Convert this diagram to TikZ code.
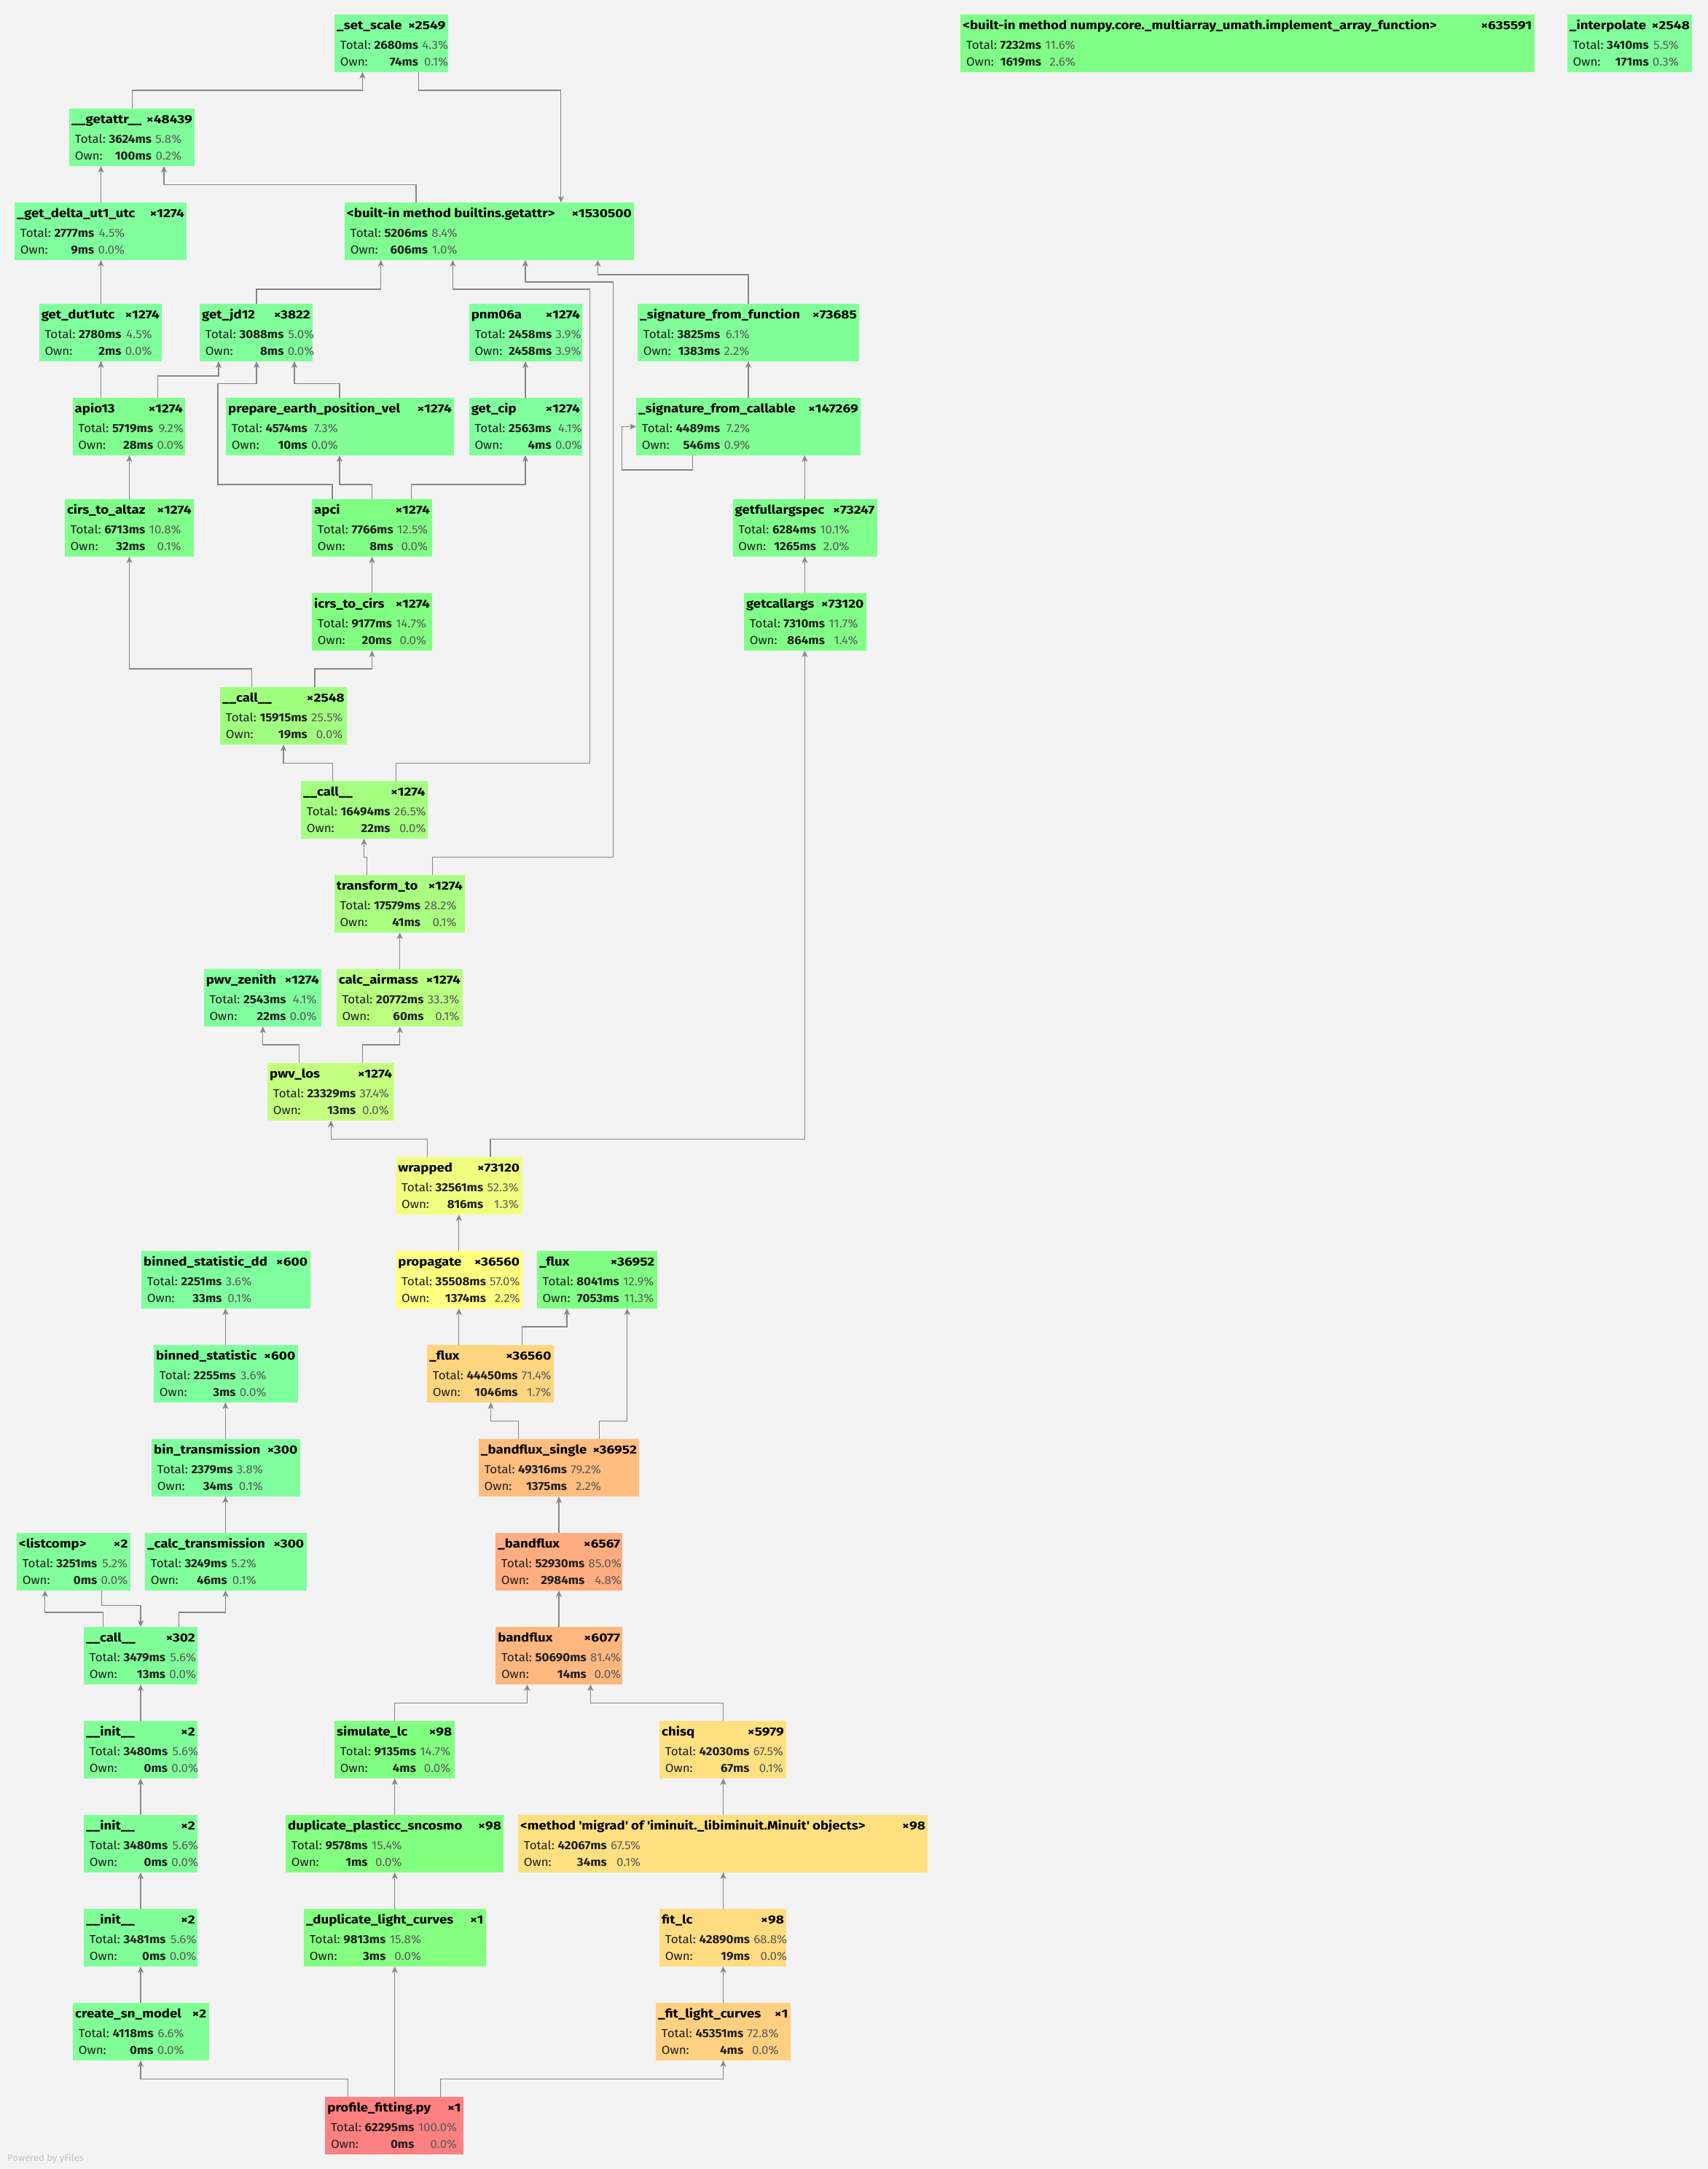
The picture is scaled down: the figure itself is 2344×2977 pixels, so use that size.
\documentclass[tikz,border=0pt]{standalone}
\usepackage{fontspec}
\setmainfont{Fira Sans}
\newfontfamily\fuentetitulo{Fira Sans}[FakeStretch=1.13]
\newfontfamily\fuentenumero{Fira Sans}[FakeStretch=1.2]
\newfontfamily\fuentedatos{Fira Sans}[FakeStretch=1.06]
\usetikzlibrary{arrows.meta}

\definecolor{fondo}{HTML}{F3F3F3}
\definecolor{linea}{HTML}{868686}
\definecolor{pct}{HTML}{5A5A5A}
\definecolor{texto}{HTML}{1E1E1E}
\definecolor{marca}{HTML}{C4C4C4}

\tikzset{
  caja/.style={rectangle, inner sep=0pt, minimum height=78.5pt, anchor=north west},
  titulo/.style={inner sep=0pt, font=\fuentetitulo\bfseries\fontsize{16.5}{19}\selectfont, text=black},
  numero/.style={inner sep=0pt, font=\fuentenumero\bfseries\fontsize{16}{19}\selectfont, text=black},
  datos/.style={inner sep=0pt, anchor=base west, font=\fuentedatos\fontsize{16}{23.4}\selectfont, text=texto},
  flecha/.style={draw=linea, line width=1.1pt, -{Stealth[length=9pt,width=8pt,inset=2.5pt]}},
}

% caja de una funcion: nombre, posicion, ancho, titulo, llamadas, total, %total, propio, %propio
\newcommand\funcion[9]{%
  \pgfmathsetmacro\tono{140*(1-#7/100)}%
  \pgfmathsetmacro\rojo{0.5+0.5*min(1,max(0,(120-\tono)/60))}%
  \pgfmathsetmacro\verde{0.5+0.5*min(1,\tono/60)}%
  \pgfmathsetmacro\azul{0.5+0.5*max(0,(\tono-120)/60)}%
  \definecolor{relleno}{rgb}{\rojo,\verde,\azul}%
  \node[caja, fill=relleno, minimum width=#3pt] (#1) at (#2) {};
  \node[titulo, anchor=base west] (#1-t) at ([xshift=3pt,yshift=-20.7pt]#1.north west) {#4};
  \node[numero, anchor=base east] (#1-n) at ([xshift=-3.3pt,yshift=-20.7pt]#1.north east) {×#5};
  \node[datos] (#1-d) at ([xshift=7.7pt,yshift=-47.3pt]#1.north west)
    {\begin{tabular}[t]{@{}l@{\hspace{4.6pt}}r@{\hspace{5.3pt}}r@{}}
      Total: & \textbf{#6ms} & \textcolor{pct}{#7\%}\\
      Own:   & \textbf{#8ms} & \textcolor{pct}{#9\%}
    \end{tabular}};
}

\begin{document}
\begin{tikzpicture}[x=1pt, y=-1pt]
    % Dibuja el fondo
    \useasboundingbox (0,0) rectangle (2344,2977);
    \fill[fondo] (0,0) rectangle (2344,2977);

    % Dibuja las cajas de la parte de arriba
    \funcion{setscale}{459,20}{155.5}{\_set\_scale}{2549}{2680}{4.3}{74}{0.1}
    \funcion{numpy}{1318.2,20}{787.2}{<built-in method numpy.core.\_multiarray\_umath.implement\_array\_function>}{635591}{7232}{11.6}{1619}{2.6}
    \funcion{interp}{2150.7,20}{171.3}{\_interpolate}{2548}{3410}{5.5}{171}{0.3}
    \funcion{getattr}{95,149}{172}{\_\_getattr\_\_}{48439}{3624}{5.8}{100}{0.2}
    \funcion{deltaut}{20,278}{236}{\_get\_delta\_ut1\_utc}{1274}{2777}{4.5}{9}{0.0}
    \funcion{builtins}{473,278}{397}{<built-in method builtins.getattr>}{1530500}{5206}{8.4}{606}{1.0}
    \funcion{dututc}{53.6,417}{168.4}{get\_dut1utc}{1274}{2780}{4.5}{2}{0.0}
    \funcion{jd}{274,417}{155}{get\_jd12}{3822}{3088}{5.0}{8}{0.0}
    \funcion{pnm}{643.6,417}{155.4}{pnm06a}{1274}{2458}{3.9}{2458}{3.9}
    \funcion{sigfunc}{875,417}{304}{\_signature\_from\_function}{73685}{3825}{6.1}{1383}{2.2}
    \funcion{apio}{99.5,546}{154.5}{apio13}{1274}{5719}{9.2}{28}{0.0}
    \funcion{prepare}{310,546}{313}{prepare\_earth\_position\_vel}{1274}{4574}{7.3}{10}{0.0}
    \funcion{cip}{643.6,546}{155.4}{get\_cip}{1274}{2563}{4.1}{4}{0.0}
    \funcion{sigcall}{873,546}{308}{\_signature\_from\_callable}{147269}{4489}{7.2}{546}{0.9}
    \funcion{cirs}{88.8,685}{177}{cirs\_to\_altaz}{1274}{6713}{10.8}{32}{0.1}
    \funcion{apci}{428,685}{165}{apci}{1274}{7766}{12.5}{8}{0.0}
    \funcion{fullargs}{1005.5,685}{198}{getfullargspec}{73247}{6284}{10.1}{1265}{2.0}
    \funcion{icrs}{428,814}{165}{icrs\_to\_cirs}{1274}{9177}{14.7}{20}{0.0}
    \funcion{callargs}{1020.9,814}{167.6}{getcallargs}{73120}{7310}{11.7}{864}{1.4}
    \funcion{callA}{302,943}{174}{\_\_call\_\_}{2548}{15915}{25.5}{19}{0.0}
    \funcion{callB}{413,1072}{173.5}{\_\_call\_\_}{1274}{16494}{26.5}{22}{0.0}
    \funcion{transform}{458.6,1201}{179.4}{transform\_to}{1274}{17579}{28.2}{41}{0.1}
    \funcion{zenith}{279.6,1330}{161.4}{pwv\_zenith}{1274}{2543}{4.1}{22}{0.0}
    \funcion{airmass}{461.6,1330}{173.4}{calc\_airmass}{1274}{20772}{33.3}{60}{0.1}
    \funcion{pwvlos}{367,1459}{174.2}{pwv\_los}{1274}{23329}{37.4}{13}{0.0}
    \funcion{wrapped}{543.2,1588}{173.1}{wrapped}{73120}{32561}{52.3}{816}{1.3}

    % Dibuja las cajas de la parte de abajo
    \funcion{bindd}{194,1717}{231.3}{binned\_statistic\_dd}{600}{2251}{3.6}{33}{0.1}
    \funcion{propagate}{543.2,1717}{173.1}{propagate}{36560}{35508}{57.0}{1374}{2.2}
    \funcion{fluxB}{736.8,1717}{164.6}{\_flux}{36952}{8041}{12.9}{7053}{11.3}
    \funcion{binstat}{211,1846}{197.4}{binned\_statistic}{600}{2255}{3.6}{3}{0.0}
    \funcion{fluxA}{586,1846}{173.6}{\_flux}{36560}{44450}{71.4}{1046}{1.7}
    \funcion{bintrans}{208,1975}{203.4}{bin\_transmission}{300}{2379}{3.8}{34}{0.1}
    \funcion{bfsingle}{656.7,1975}{220.3}{\_bandflux\_single}{36952}{49316}{79.2}{1375}{2.2}
    \funcion{listcomp}{22.9,2104}{155.7}{<listcomp>}{2}{3251}{5.2}{0}{0.0}
    \funcion{calctrans}{199,2104}{221.3}{\_calc\_transmission}{300}{3249}{5.2}{46}{0.1}
    \funcion{bflux}{680,2104}{174.2}{\_bandflux}{6567}{52930}{85.0}{2984}{4.8}
    \funcion{callC}{115,2233}{156}{\_\_call\_\_}{302}{3479}{5.6}{13}{0.0}
    \funcion{bandflux}{680.1,2233}{174.1}{bandflux}{6077}{50690}{81.4}{14}{0.0}
    \funcion{initA}{115,2362}{156}{\_\_init\_\_}{2}{3480}{5.6}{0}{0.0}
    \funcion{simlc}{459,2362}{164.3}{simulate\_lc}{98}{9135}{14.7}{4}{0.0}
    \funcion{chisq}{905,2362}{174}{chisq}{5979}{42030}{67.5}{67}{0.1}
    \funcion{initB}{115,2491}{156}{\_\_init\_\_}{2}{3480}{5.6}{0}{0.0}
    \funcion{dupplas}{392,2491}{299}{duplicate\_plasticc\_sncosmo}{98}{9578}{15.4}{1}{0.0}
    \funcion{migrad}{711,2491}{562}{<method \textquotesingle migrad\textquotesingle{} of \textquotesingle iminuit.\_libiminuit.Minuit\textquotesingle{} objects>}{98}{42067}{67.5}{34}{0.1}
    \funcion{initC}{115,2620}{156}{\_\_init\_\_}{2}{3481}{5.6}{0}{0.0}
    \funcion{duplc}{416.9,2620}{249.7}{\_duplicate\_light\_curves}{1}{9813}{15.8}{3}{0.0}
    \funcion{fitlc}{905,2620}{174}{fit\_lc}{98}{42890}{68.8}{19}{0.0}
    \funcion{createsn}{100,2749}{186.5}{create\_sn\_model}{2}{4118}{6.6}{0}{0.0}
    \funcion{fitcurves}{900,2749}{184.5}{\_fit\_light\_curves}{1}{45351}{72.8}{4}{0.0}
    \funcion{profile}{446.2,2878}{189.5}{profile\_fitting.py}{1}{62295}{100.0}{0}{0.0}

    % Dibuja las llamadas de arriba
    \draw[flecha] (181.4,0 |- getattr.north) |- (497.4,124) -- (497.4,0 |- setscale.south);
    \draw[flecha] (574.7,0 |- setscale.south) |- (769.9,124) -- (769.9,0 |- builtins.north);
    \draw[flecha] (138.5,0 |- deltaut.north) -- (138.5,0 |- getattr.south);
    \draw[flecha] (571,0 |- builtins.north) |- (225,253.7) -- (225,0 |- getattr.south);
    \draw[flecha] (138.5,0 |- dututc.north) -- (138.5,0 |- deltaut.south);
    \draw[flecha] (352,0 |- jd.north) |- (522.7,397) -- (522.7,0 |- builtins.south);
    \draw[flecha] (543.7,0 |- callB.north) |- (809.7,1047.7) |- (621.4,397) -- (621.4,0 |- builtins.south);
    \draw[flecha] (593.5,0 |- transform.north) |- (841.8,1176.6) |- (721,387) -- (721,0 |- builtins.south);
    \draw[flecha] (1027,0 |- sigfunc.north) |- (820.4,377) -- (820.4,0 |- builtins.south);
    \draw[flecha] (138.5,0 |- apio.north) -- (138.5,0 |- dututc.south);
    \draw[flecha] (216.6,0 |- apio.north) |- (300,516) -- (300,0 |- jd.south);
    \draw[flecha] (456,0 |- apci.north) |- (299,665) |- (352,526.4) -- (352,0 |- jd.south);
    \draw[flecha] (466,0 |- prepare.north) |- (404,526.4) -- (404,0 |- jd.south);
    \draw[flecha] (510.5,0 |- apci.north) |- (466,665) -- (466,0 |- prepare.south);
    \draw[flecha] (564.8,0 |- apci.north) |- (721,665) -- (721,0 |- cip.south);
    \draw[flecha] (721,0 |- cip.north) -- (721,0 |- pnm.south);
    \draw[flecha] (1027,0 |- sigcall.north) -- (1027,0 |- sigfunc.south);
    \draw[flecha] (950.5,0 |- sigcall.south) |- (853.3,645) |- (sigcall.west |- 0,585.5);
    \draw[flecha] (1104.4,0 |- fullargs.north) -- (1104.4,0 |- sigcall.south);
    \draw[flecha] (177.5,0 |- cirs.north) -- (177.5,0 |- apio.south);
    \draw[flecha] (345.7,0 |- callA.north) |- (177.5,918) -- (177.5,0 |- cirs.south);
    \draw[flecha] (432,0 |- callA.north) |- (510.5,918) -- (510.5,0 |- icrs.south);
    \draw[flecha] (510.5,0 |- icrs.north) -- (510.5,0 |- apci.south);
    \draw[flecha] (456.7,0 |- callB.north) |- (389,1047.7) -- (389,0 |- callA.south);
    \draw[flecha] (503.4,0 |- transform.north) |- (499.5,1176.6) -- (499.5,0 |- callB.south);
    \draw[flecha] (548.7,0 |- airmass.north) -- (548.7,0 |- transform.south);
    \draw[flecha] (410.4,0 |- pwvlos.north) |- (360.7,1434) -- (360.7,0 |- zenith.south);
    \draw[flecha] (497.5,0 |- pwvlos.north) |- (548.7,1434) -- (548.7,0 |- airmass.south);
    \draw[flecha] (586.5,0 |- wrapped.north) |- (454.2,1563.4) -- (454.2,0 |- pwvlos.south);
    \draw[flecha] (673,0 |- wrapped.north) |- (1104.4,1563.4) -- (1104.4,0 |- callargs.south);
    \draw[flecha] (1104.4,0 |- callargs.north) -- (1104.4,0 |- fullargs.south);

    % Dibuja las llamadas de abajo
    \draw[flecha] (629.8,0 |- propagate.north) -- (629.8,0 |- wrapped.south);
    \draw[flecha] (629.8,0 |- fluxA.north) -- (629.8,0 |- propagate.south);
    \draw[flecha] (716.4,0 |- fluxA.north) |- (778,1821) -- (778,0 |- fluxB.south);
    \draw[flecha] (711.4,0 |- bfsingle.north) |- (673.6,1950.4) -- (673.6,0 |- fluxA.south);
    \draw[flecha] (822.4,0 |- bfsingle.north) |- (860.7,1950.4) -- (860.7,0 |- fluxB.south);
    \draw[flecha] (767,0 |- bflux.north) -- (767,0 |- bfsingle.south);
    \draw[flecha] (767,0 |- bandflux.north) -- (767,0 |- bflux.south);
    \draw[flecha] (309.4,0 |- binstat.north) -- (309.4,0 |- bindd.south);
    \draw[flecha] (309.4,0 |- bintrans.north) -- (309.4,0 |- binstat.south);
    \draw[flecha] (309.4,0 |- calctrans.north) -- (309.4,0 |- bintrans.south);
    \draw[flecha] (141.3,0 |- callC.north) |- (61.7,2213) -- (61.7,0 |- listcomp.south);
    \draw[flecha] (139.3,0 |- listcomp.south) |- (193,2203.6) -- (193,0 |- callC.north);
    \draw[flecha] (245.7,0 |- callC.north) |- (309.4,2213) -- (309.4,0 |- calctrans.south);
    \draw[flecha] (193,0 |- initA.north) -- (193,0 |- callC.south);
    \draw[flecha] (193,0 |- initB.north) -- (193,0 |- initA.south);
    \draw[flecha] (193,0 |- initC.north) -- (193,0 |- initB.south);
    \draw[flecha] (193,0 |- createsn.north) -- (193,0 |- initC.south);
    \draw[flecha] (477.6,0 |- profile.north) |- (193,2853.6) -- (193,0 |- createsn.south);
    \draw[flecha] (541.7,0 |- profile.north) -- (541.7,0 |- duplc.south);
    \draw[flecha] (604.4,0 |- profile.north) |- (992.5,2853.6) -- (992.5,0 |- fitcurves.south);
    \draw[flecha] (541.7,0 |- duplc.north) -- (541.7,0 |- dupplas.south);
    \draw[flecha] (541.7,0 |- dupplas.north) -- (541.7,0 |- simlc.south);
    \draw[flecha] (541.7,0 |- simlc.north) |- (723.4,2337.3) -- (723.4,0 |- bandflux.south);
    \draw[flecha] (992.5,0 |- chisq.north) |- (810.4,2337.3) -- (810.4,0 |- bandflux.south);
    \draw[flecha] (992.5,0 |- migrad.north) -- (992.5,0 |- chisq.south);
    \draw[flecha] (992.5,0 |- fitlc.north) -- (992.5,0 |- migrad.south);
    \draw[flecha] (992.5,0 |- fitcurves.north) -- (992.5,0 |- fitlc.south);

    % Marca de agua
    \node[anchor=base west, inner sep=0pt, text=marca, font=\fontsize{13}{15}\selectfont] (yfiles) at (10,2966) {Powered by yFiles};
\end{tikzpicture}
\end{document}
